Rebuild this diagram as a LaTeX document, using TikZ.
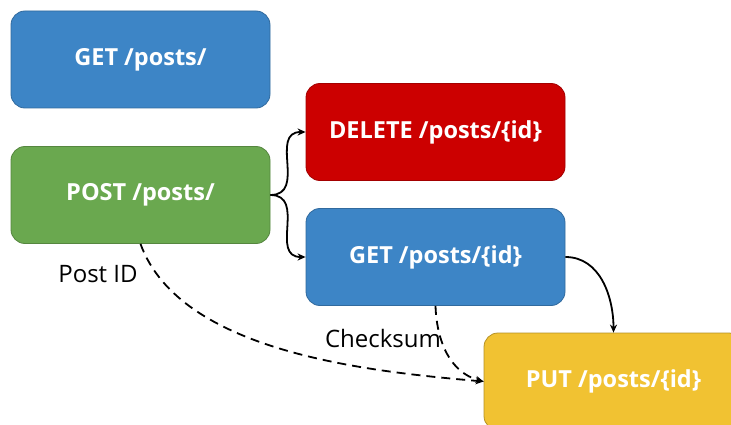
\documentclass[tikz,border=0pt]{standalone}
\usepackage{fontspec}
\setmainfont{Open Sans}
\usetikzlibrary{arrows.meta, positioning}
\definecolor{getblue}{RGB}{61,133,198}
\definecolor{postgreen}{RGB}{106,168,79}
\definecolor{delred}{RGB}{204,0,0}
\definecolor{putyellow}{RGB}{241,194,50}

\begin{document}
\begin{tikzpicture}[x=1pt, y=-1pt,
  endpoint/.style={draw, rounded corners=14pt, minimum width=259pt, minimum height=97pt,
    text=white, font=\fontsize{23.5}{28}\selectfont\bfseries, line width=0.8pt},
  flow/.style={-{Stealth[length=8pt, width=7pt]}, line width=1.8pt},
  every node/.style={inner sep=0pt}]
  \clip (0,0) rectangle (731,425);
  \fill[white] (0,0) rectangle (731,425);

  \node[endpoint, fill=getblue, draw=getblue!80!black] (getall) at (140.5,59.5) {GET /posts/};
  \node[endpoint, fill=postgreen, draw=postgreen!80!black] (post) at (140.5,195) {POST /posts/};
  \node[endpoint, fill=delred, draw=delred!80!black] (delete) at (435.5,132) {DELETE /posts/\{id\}};
  \node[endpoint, fill=getblue, draw=getblue!80!black] (getone) at (435.5,257) {GET /posts/\{id\}};
  \node[endpoint, fill=putyellow, draw=putyellow!75!black] (put) at (613.5,381.5) {PUT /posts/\{id\}};

  \draw[flow] (post.east) to[out=0, in=180, looseness=1.3] (delete.west);
  \draw[flow] (post.east) to[out=0, in=180, looseness=1.3] (getone.west);
  \draw[flow] (getone.east) to[out=0, in=90] (put.north);

  \draw[flow, dash pattern=on 9pt off 6pt] (post.south) to[out=-70, in=175, looseness=0.8] (put.west);
  \draw[flow, dash pattern=on 9pt off 6pt] (getone.south) to[out=-88, in=165] (put.west);

  \node[font=\fontsize{24}{28}\selectfont] (postid) at (98,274) {Post ID};
  \node[font=\fontsize{24}{28}\selectfont] (checksum) at (383,338) {Checksum};
\end{tikzpicture}
\end{document}
